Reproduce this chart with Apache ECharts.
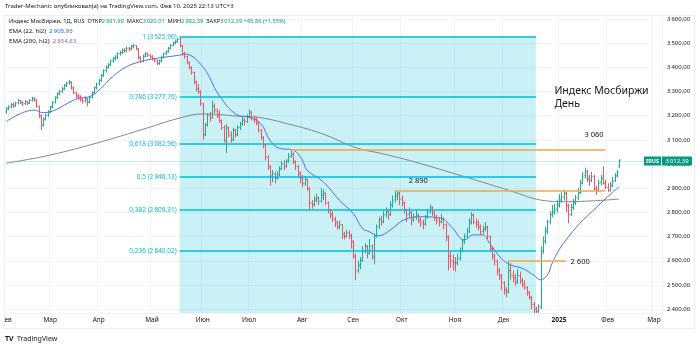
<!DOCTYPE html>
<html><head><meta charset="utf-8">
<script src="https://cdn.jsdelivr.net/npm/echarts@6/dist/echarts.min.js"></script>
<style>html,body{margin:0;padding:0;background:#fff}#c{width:700px;height:347px}</style>
</head><body><div id="c"></div>
<script>
// ---------- DATA ----------
// OHLC rows [open, high, low, close], one per weekday
const feb24 = [[3215,3235,3208,3228],[3230,3242,3222,3236],[3238,3252,3230,3245],[3246,3255,3232,3240],[3242,3258,3236,3252],[3254,3268,3246,3262],[3262,3266,3248,3255],[3254,3260,3240,3248],[3250,3264,3244,3258],[3258,3262,3244,3250],[3252,3268,3248,3262],[3264,3278,3258,3270],[3270,3276,3258,3265],[3264,3268,3232,3240],[3238,3242,3190,3200],[3198,3205,3140,3160],[3162,3192,3155,3185],[3186,3208,3180,3200],[3202,3222,3195,3215]];
const mar24 = [[3216,3240,3210,3235],[3236,3260,3230,3255],[3256,3280,3250,3275],[3276,3295,3268,3290],[3291,3306,3284,3300],[3300,3318,3294,3310],[3311,3330,3305,3325],[3326,3340,3318,3335],[3336,3348,3328,3340],[3338,3342,3308,3315],[3314,3320,3288,3295],[3294,3300,3272,3280],[3282,3290,3266,3275],[3274,3284,3258,3268],[3266,3276,3250,3260],[3262,3280,3254,3270],[3268,3272,3238,3255],[3256,3282,3250,3275],[3276,3300,3270,3295],[3296,3320,3290,3315],[3316,3336,3308,3330]];
const apr24 = [[3331,3352,3324,3345],[3346,3372,3340,3365],[3366,3392,3360,3385],[3386,3408,3378,3400],[3401,3418,3394,3410],[3411,3432,3404,3425],[3426,3442,3418,3435],[3436,3450,3428,3440],[3441,3462,3434,3455],[3456,3468,3448,3460],[3461,3478,3454,3470],[3471,3480,3460,3468],[3469,3486,3462,3478],[3479,3484,3466,3475],[3476,3492,3470,3485],[3486,3496,3478,3490],[3489,3492,3470,3478],[3476,3480,3432,3440],[3438,3446,3418,3425],[3426,3452,3420,3445],[3446,3462,3440,3455],[3456,3460,3442,3450]];
const may24 = [[3448,3454,3436,3445],[3444,3450,3428,3435],[3434,3440,3420,3428],[3426,3432,3408,3415],[3416,3432,3410,3425],[3426,3446,3420,3440],[3441,3460,3436,3455],[3456,3470,3450,3465],[3466,3484,3460,3478],[3479,3496,3474,3490],[3491,3506,3486,3500],[3501,3512,3494,3505],[3506,3520,3500,3515],[3516,3525.9,3482,3490],[3488,3492,3448,3455],[3456,3464,3436,3445],[3444,3448,3412,3420],[3418,3424,3392,3400],[3398,3404,3370,3380],[3378,3382,3330,3340],[3338,3345,3300,3310],[3312,3330,3290,3300],[3298,3305,3240,3250]];
const jun24 = [[3248,3252,3100,3120],[3122,3170,3115,3160],[3162,3210,3155,3200],[3198,3215,3175,3190],[3192,3262,3188,3240],[3238,3250,3210,3220],[3218,3230,3190,3200],[3198,3222,3170,3180],[3178,3185,3140,3150],[3150,3160,3090,3100],[3090,3165,3045,3150],[3148,3155,3110,3120],[3120,3135,3088,3100],[3102,3150,3095,3140],[3138,3145,3110,3120],[3122,3160,3115,3150],[3152,3175,3140,3165],[3166,3195,3158,3180],[3182,3190,3160,3175],[3176,3205,3170,3195]];
const jul24 = [[3196,3225,3190,3215],[3214,3218,3180,3190],[3188,3200,3170,3185],[3186,3195,3160,3170],[3168,3175,3130,3140],[3138,3145,3100,3110],[3108,3115,3065,3080],[3078,3082,3015,3030],[3028,3035,2975,2990],[2988,2995,2910,2950],[2950,2975,2925,2960],[2958,2968,2920,2940],[2942,2970,2935,2955],[2956,2990,2950,2980],[2982,3012,2975,3000],[3000,3015,2975,2990],[2992,3020,2985,3010],[3012,3045,3005,3030],[3032,3060,3025,3040],[3040,3048,3000,3010],[3008,3015,2975,2990],[2988,2995,2945,2960],[2958,2970,2920,2940]];
const aug24 = [[2942,2955,2905,2920],[2918,2948,2910,2935],[2936,2940,2890,2900],[2898,2905,2810,2840],[2838,2850,2815,2830],[2832,2866,2825,2850],[2852,2878,2842,2860],[2858,2866,2830,2845],[2846,2900,2840,2870],[2872,2895,2850,2880],[2878,2882,2830,2840],[2838,2845,2795,2810],[2808,2815,2775,2790],[2792,2805,2760,2770],[2772,2782,2740,2760],[2758,2765,2728,2740],[2742,2765,2730,2750],[2748,2752,2690,2710],[2708,2720,2688,2700],[2702,2728,2695,2715],[2714,2725,2690,2705],[2704,2712,2650,2680]];
const sep24 = [[2678,2685,2610,2620],[2618,2630,2520,2560],[2558,2600,2550,2580],[2582,2615,2565,2600],[2602,2660,2595,2640],[2642,2672,2630,2660],[2658,2665,2610,2630],[2632,2690,2625,2660],[2658,2668,2605,2620],[2615,2712,2585,2700],[2702,2750,2695,2740],[2742,2782,2730,2770],[2772,2785,2745,2760],[2762,2805,2755,2790],[2792,2820,2780,2800],[2802,2812,2770,2790],[2792,2845,2785,2830],[2832,2870,2820,2850],[2852,2890,2840,2870],[2872,2888,2850,2880],[2878,2885,2830,2855]];
const oct24 = [[2856,2870,2825,2840],[2838,2845,2795,2810],[2808,2815,2760,2790],[2792,2820,2780,2800],[2798,2805,2745,2770],[2772,2795,2760,2780],[2782,2810,2770,2790],[2788,2795,2755,2770],[2768,2780,2740,2760],[2758,2770,2730,2750],[2752,2790,2745,2780],[2782,2815,2775,2800],[2802,2832,2795,2820],[2818,2825,2785,2800],[2798,2805,2765,2780],[2778,2790,2750,2770],[2768,2780,2742,2760],[2762,2795,2755,2775],[2772,2780,2730,2750],[2748,2755,2680,2700],[2698,2705,2560,2620],[2618,2640,2570,2600],[2598,2625,2560,2590]];
const nov24 = [[2592,2615,2555,2590],[2592,2630,2580,2610],[2612,2655,2600,2640],[2642,2690,2635,2680],[2682,2712,2670,2700],[2702,2735,2690,2720],[2722,2775,2715,2760],[2762,2800,2750,2790],[2788,2795,2750,2760],[2758,2775,2735,2750],[2752,2768,2725,2740],[2738,2750,2705,2720],[2722,2745,2712,2730],[2732,2760,2722,2740],[2738,2745,2690,2700],[2698,2705,2640,2650],[2648,2660,2605,2620],[2618,2630,2580,2600],[2598,2605,2540,2560],[2558,2570,2520,2540],[2538,2545,2480,2510]];
const dec24 = [[2508,2515,2460,2480],[2478,2490,2450,2470],[2472,2600,2465,2560],[2558,2590,2520,2540],[2538,2560,2510,2530],[2528,2545,2495,2510],[2512,2565,2505,2540],[2538,2555,2505,2520],[2518,2530,2490,2500],[2502,2520,2480,2490],[2488,2495,2455,2470],[2468,2475,2440,2450],[2448,2455,2400,2420],[2418,2430,2380,2400],[2398,2410,2366.36,2390],[2392,2420,2375,2410],[2410,2660,2400,2640],[2642,2700,2630,2680],[2682,2740,2670,2720],[2722,2770,2710,2760],[2762,2805,2750,2790],[2792,2830,2780,2800]];
const jan25 = [[2802,2835,2790,2810],[2812,2850,2800,2830],[2832,2875,2820,2850],[2852,2885,2840,2860],[2862,2893,2850,2880],[2878,2885,2800,2830],[2828,2835,2755,2790],[2792,2835,2785,2820],[2822,2855,2810,2840],[2842,2872,2830,2860],[2862,2900,2850,2880],[2882,2935,2875,2920],[2922,2965,2915,2950],[2952,2985,2940,2970],[2968,2975,2925,2940],[2938,2955,2910,2930],[2932,2968,2925,2950],[2948,2955,2890,2900],[2898,2910,2872,2890],[2892,2935,2885,2920],[2922,2955,2912,2940],[2942,2990,2915,2920],[2918,2935,2895,2905]];
const feb25 = [[2903,2920,2885,2890],[2892,2925,2885,2910],[2912,2945,2905,2930],[2932,2962,2925,2950],[2952,2975,2945,2966.53],[2991.99,3020.01,2982.39,3012.39]];

// EMA readings [weekday index, value]
const ema22 = [[0,3175],[12,3223],[16,3212],[31,3271],[36,3278],[41,3313],[46,3361],[52,3402],[58,3423],[65,3437],[75,3450],[77,3455],[85,3402],[92,3285],[100,3202],[105,3193],[110,3168],[114,3099],[118,3065],[124,3058],[128,3017],[130,2975],[137,2927],[144,2851],[150,2796],[154,2734],[157,2720],[161,2703],[166,2727],[172,2769],[179,2782],[188,2776],[193,2734],[198,2686],[202,2707],[206,2707],[209,2672],[214,2610],[218,2583],[223,2569],[228,2541],[231,2521],[234,2541],[236,2590],[239,2645],[242,2686],[248,2755],[254,2810],[260,2865],[265,2906]];
const ema200 = [[0,3003],[19,3037],[39,3086],[58,3140],[75,3190],[85,3207],[100,3198],[109,3193],[121,3168],[136,3127],[152,3065],[162,3044],[176,3010],[198,2948],[219,2886],[231,2851],[242,2844],[254,2848],[265,2855]];

// Fibonacci (trend-based) levels
const fibRatios = ['1','0,786','0,618','0,5','0,382','0,236'];
const fibValues = [3525.90, 3277.76, 3082.96, 2946.13, 2809.31, 2640.02];
const fibStart = '2024-05-20', fibEnd = '2024-12-20';
const trendHigh = 3525.90, trendLow = 2366.36;

// horizontal orange levels
const levelValues = [3060, 2890, 2600];
const levelStarts = ['2024-07-25', '2024-09-26', '2024-12-04'];
const levelEnds   = ['2025-01-31', '2025-01-31', '2025-01-08'];
const levelTexts  = ['3 060', '2 890', '2 600'];
const levelTextAt = [['2025-01-20', 3120], ['2024-10-04', 2930], ['2025-01-10', 2597]];

// month labels on the time axis
const monthStarts = ['2024-03-01','2024-04-01','2024-05-02','2024-06-03','2024-07-01','2024-08-01','2024-09-02','2024-10-01','2024-11-01','2024-12-02','2025-01-03','2025-02-03','2025-03-03'];
const monthNames  = ['Мар','Апр','Май','Июн','Июл','Авг','Сен','Окт','Ноя','Дек','2025','Фев','Мар'];

const lastClose = 3012.39;
const yMin = 2384, yMax = 3616;

// ---------- BUILD ----------
const bars = [].concat(feb24, mar24, apr24, may24, jun24, jul24, aug24, sep24, oct24, nov24, dec24, jan25, feb25);
const cats = [];
for (let d = new Date(Date.UTC(2024,1,5)); d <= new Date(Date.UTC(2025,2,6)); d.setUTCDate(d.getUTCDate()+1)) {
  const wd = d.getUTCDay();
  if (wd > 0 && wd < 6) cats.push(d.toISOString().slice(0,10));
}
const monthMap = {};
monthStarts.forEach((m,i)=>monthMap[m]=monthNames[i]);

const fmt = v => {
  const s = v.toFixed(2).split('.');
  return s[0].replace(/\B(?=(\d{3})+(?!\d))/g, '\u2009') + ',' + s[1];
};
const FONT = "'Noto Sans', sans-serif";
const UP = '#22ab94', DOWN = '#f7525f', CYAN = '#00bcd4', ORANGE = '#f7a541';

const chart = echarts.init(document.getElementById('c'));

const fibLines = fibValues.map((v,i)=>[
  {coord:[fibStart, v], label:{formatter: fibRatios[i] + ' (' + fmt(v) + ')'}},
  {coord:[fibEnd, v]}
]);

const series = [
  {
    type: 'line', data: [], silent: true,
    markArea: {
      silent: true,
      itemStyle: {color: 'rgba(0,188,212,0.21)'},
      data: [[{coord: [fibStart, trendHigh]}, {coord: [fibEnd, yMin]}]]
    },
    markLine: {
      silent: true, symbol: ['none','none'], animation: false,
      lineStyle: {color: CYAN, width: 1.5, type: 'solid'},
      label: {position: 'start', distance: 3, color: CYAN, fontSize: 6.5, fontFamily: FONT},
      data: fibLines
    }
  },
  {
    type: 'line', data: [], silent: true,
    markLine: {
      silent: true, symbol: ['none','none'],
      lineStyle: {color: CYAN, width: 1.5, type: [4, 4]},
      label: {show: false},
      data: [[{coord: [fibStart, trendHigh]}, {coord: [fibEnd, trendLow]}]]
    }
  }
];
// one series per orange level
levelValues.forEach((v, i) => {
  series.push({
    type: 'line', data: [], silent: true, color: ORANGE,
    markLine: {
      silent: true, symbol: ['none','none'],
      lineStyle: {color: ORANGE, width: 1.5, type: 'solid', opacity: 1},
      label: {show: false},
      data: [[{coord: [levelStarts[i], v], lineStyle: {color: ORANGE}}, {coord: [levelEnds[i], v]}]]
    },
    markPoint: {
      silent: true, symbol: 'circle', symbolSize: 0,
      label: {show: true, position: 'right', distance: 0, color: '#131722', fontSize: 7.5, fontFamily: FONT},
      data: [{coord: levelTextAt[i], label: {formatter: levelTexts[i]}}]
    }
  });
});
series.push(
  {
    type: 'line', data: [], silent: true,
    markPoint: {
      silent: true, symbol: 'circle', symbolSize: 0,
      label: {show: true, position: 'right', distance: 0, color: '#131722', fontSize: 10.5, fontFamily: FONT},
      data: [
        {coord: ['2025-01-01', 3302], label: {formatter: 'Индекс Мосбиржи'}},
        {coord: ['2025-01-01', 3248], label: {formatter: 'День'}}
      ]
    },
    markLine: {
      silent: true, symbol: ['none','none'],
      lineStyle: {color: 'rgba(34,171,148,0.25)', width: 1, type: 'solid'},
      label: {show: false},
      data: [{yAxis: lastClose}]
    }
  },
  {
    name: 'EMA200', type: 'line', data: ema200, smooth: 0.4, symbol: 'none',
    lineStyle: {color: '#84878f', width: 1}, z: 3
  },
  {
    name: 'EMA22', type: 'line', data: ema22, smooth: 0.4, symbol: 'none',
    lineStyle: {color: '#4d6ff7', width: 1}, z: 3
  },
  {
    type: 'custom', z: 4,
    data: bars.map((b,i)=>[i, b[0], b[1], b[2], b[3]]),
    encode: {x: 0, y: [1,2,3,4]},
    renderItem: (params, api) => {
      const x = api.value(0), o = api.value(1), h = api.value(2), l = api.value(3), c = api.value(4);
      const pH = api.coord([x, h]), pL = api.coord([x, l]), pO = api.coord([x, o]), pC = api.coord([x, c]);
      const color = c >= o ? UP : DOWN;
      const cx = Math.round(pH[0]) + 0.5;
      const st = {stroke: color, lineWidth: 1};
      return {type: 'group', children: [
        {type: 'line', shape: {x1: cx, y1: pH[1], x2: cx, y2: pL[1]}, style: st},
        {type: 'line', shape: {x1: cx - 1.2, y1: pO[1], x2: cx, y2: pO[1]}, style: st},
        {type: 'line', shape: {x1: cx, y1: pC[1], x2: cx + 1.2, y2: pC[1]}, style: st}
      ]};
    },
    clip: true
  }
);

chart.setOption({
  animation: false,
  backgroundColor: '#ffffff',
  grid: {left: 5, right: 38, top: 15, bottom: 34, containLabel: false},
  xAxis: {
    type: 'category', data: cats, boundaryGap: true,
    axisLine: {show: false}, axisTick: {show: false},
    axisLabel: {
      interval: 0, margin: 4, fontSize: 6.5, fontFamily: FONT, color: '#131722',
      formatter: v => monthMap[v] ? (monthMap[v] === '2025' ? '{b|2025}' : monthMap[v]) : '',
      rich: {b: {fontWeight: 'bold', fontSize: 6.5, fontFamily: FONT, color: '#131722'}}
    },
    splitLine: {show: true, interval: (i, v) => !!monthMap[v], lineStyle: {color: '#f0f3fa', width: 1}}
  },
  yAxis: {
    type: 'value', position: 'right', min: yMin, max: yMax, splitNumber: 12, scale: true,
    axisLine: {show: false}, axisTick: {show: false},
    axisLabel: {
      margin: 5, fontSize: 6, fontFamily: FONT, color: '#131722', align: 'left',
      showMinLabel: false, showMaxLabel: false,
      formatter: v => (Math.abs(v % 100) < 1e-6) ? fmt(v) : ''
    },
    splitLine: {lineStyle: {color: '#f0f3fa', width: 1}}
  },
  series: series
});

const yLast = chart.convertToPixel({yAxisIndex: 0}, lastClose);
const HF = "'Noto Sans', sans-serif";
chart.setOption({
  graphic: [
    {type: 'rect', z: 100, shape: {x: 4.5, y: 15.5, width: 690, height: 313}, style: {fill: 'none', stroke: '#eceef3', lineWidth: 1}},
    {type: 'text', z: 100, left: 5, top: 3.5, style: {text: 'Trader-Mechanic опубликовал(а) на TradingView.com, Фев 10, 2025 22:13 UTC+3', font: '6px ' + HF, fill: '#131722'}},
    {type: 'text', z: 100, left: 9, top: 18, style: {
      text: '{n|Индекс МосБиржи, 1Д, RUS  ОТКР}{g|2\u2009991,99}{n|  МАКС}{g|3\u2009020,01}{n|  МИН}{g|2\u2009982,39}{n|  ЗАКР}{g|3\u2009012,39 +45,86 (+1,55%)}',
      rich: {n: {font: '5.7px ' + HF, fill: '#131722'}, g: {font: '5.7px ' + HF, fill: '#089981'}}}},
    {type: 'text', z: 100, left: 9, top: 28, style: {
      text: '{n|EMA (22, hl2)  }{b|2\u2009905,93}',
      rich: {n: {font: '6.1px ' + HF, fill: '#131722'}, b: {font: '6.1px ' + HF, fill: '#2962ff'}}}},
    {type: 'text', z: 100, left: 9, top: 38, style: {
      text: '{n|EMA (200, hl2)  }{b|2\u2009854,83}',
      rich: {n: {font: '6.1px ' + HF, fill: '#131722'}, b: {font: '6.1px ' + HF, fill: '#787b86'}}}},
    {type: 'text', z: 100, left: 4.5, top: 316.5, style: {text: 'ев', font: '6.5px ' + FONT, fill: '#131722'}},
    {type: 'rect', z: 100, shape: {x: 644, y: yLast - 4.5, width: 17, height: 9}, style: {fill: '#089981'}},
    {type: 'text', z: 101, x: 652.5, y: yLast, style: {text: 'IRUS', font: 'bold 5.5px ' + FONT, fill: '#ffffff', align: 'center', verticalAlign: 'middle'}},
    {type: 'rect', z: 100, shape: {x: 662, y: yLast - 4.5, width: 30, height: 9}, style: {fill: '#089981'}},
    {type: 'text', z: 101, x: 677, y: yLast, style: {text: fmt(lastClose), font: '6px ' + FONT, fill: '#ffffff', align: 'center', verticalAlign: 'middle'}},
    {type: 'text', z: 100, left: 5, top: 333, style: {text: '{l|TV} {t|TradingView}', rich: {l: {font: 'bold 7px ' + FONT, fill: '#131722'}, t: {font: '7px ' + FONT, fill: '#131722'}}}}
  ]
});
</script></body></html>
